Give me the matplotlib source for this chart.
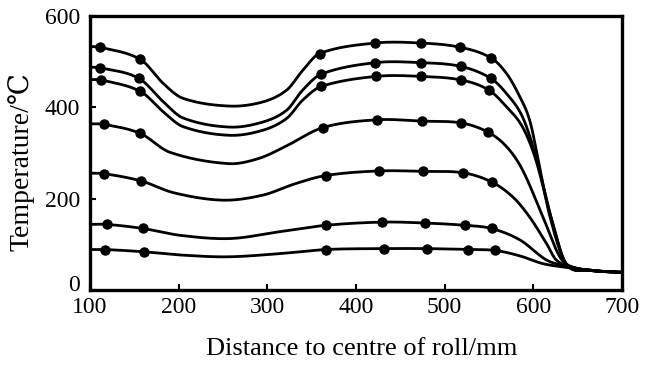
import numpy as np
import matplotlib
matplotlib.use("Agg")
import matplotlib.pyplot as plt
from matplotlib.transforms import ScaledTranslation

# marker points (distance mm, temperature C), top curve first
mark_x = [
    [111, 157, 359, 422, 473, 517, 552],
    [111, 155, 361, 422, 473, 518, 552],
    [113, 157, 361, 423, 473, 519, 550],
    [116, 157, 363, 424, 475, 519, 549],
    [116, 158, 366, 426, 476, 521, 553],
    [119, 160, 366, 430, 478, 523, 553],
    [117, 161, 366, 432, 480, 526, 557],
]
mark_t = [
    [532, 505, 518, 541, 541, 532, 509],
    [487, 464, 473, 498, 498, 490, 464],
    [460, 435, 446, 468, 468, 460, 438],
    [363, 343, 356, 373, 370, 366, 346],
    [255, 239, 251, 261, 260, 257, 237],
    [144, 135, 142, 149, 147, 142, 135],
    [89, 84, 89, 91, 91, 89, 87],
]
# unmarked points the drawn curves pass through
line_x = [
    [100, 183, 205, 257, 295, 322, 340, 570, 585, 596, 605, 619, 637, 664, 700],
    [100, 183, 205, 257, 295, 322, 340, 570, 588, 603, 620, 637, 664, 700],
    [100, 183, 205, 257, 295, 322, 340, 570, 588, 603, 620, 637, 664, 700],
    [100, 190, 256, 290, 320, 570, 588, 611, 630, 645, 670, 700],
    [100, 195, 250, 295, 330, 577, 596, 615, 626, 645, 670, 700],
    [100, 202, 258, 314, 585, 615, 637, 665, 700],
    [100, 202, 255, 314, 585, 611, 637, 665, 700],
]
line_t = [
    [533, 452, 420, 403, 412, 438, 481, 474, 423, 372, 292, 160, 58, 44, 39],
    [488, 412, 377, 357, 368, 394, 438, 430, 379, 292, 160, 58, 44, 39],
    [461, 390, 358, 339, 350, 376, 416, 401, 357, 285, 160, 58, 44, 39],
    [364, 302, 277, 288, 314, 314, 263, 160, 73, 50, 42, 39],
    [256, 213, 197, 208, 232, 204, 160, 102, 66, 50, 42, 39],
    [144, 120, 113, 128, 110, 66, 53, 43, 39],
    [89, 77, 73, 80, 75, 58, 50, 43, 39],
]


def smooth_line(x, y, xn):
    # cubic Hermite with centred-difference slopes, only to draw a smooth line
    x = np.asarray(x, float); y = np.asarray(y, float)
    m = np.empty_like(y)
    m[1:-1] = (y[2:] - y[:-2]) / (x[2:] - x[:-2])
    m[0] = (y[1] - y[0]) / (x[1] - x[0])
    m[-1] = (y[-1] - y[-2]) / (x[-1] - x[-2])
    h = np.diff(x)
    i = np.clip(np.searchsorted(x, xn) - 1, 0, len(h) - 1)
    s = (xn - x[i]) / h[i]
    h00 = 2*s**3 - 3*s**2 + 1; h10 = s**3 - 2*s**2 + s
    h01 = -2*s**3 + 3*s**2; h11 = s**3 - s**2
    return h00*y[i] + h10*h[i]*m[i] + h01*y[i+1] + h11*h[i]*m[i+1]


plt.rcParams['font.family'] = ['Liberation Serif', 'DejaVu Serif']

fig = plt.figure(figsize=(6.56, 3.65), dpi=100)
ax = fig.add_axes([0.137, 0.205, 0.811, 0.751])

xs = np.linspace(100, 700, 1200)
for mx, mt, lx, lt in zip(mark_x, mark_t, line_x, line_t):
    kx = np.array(mx + lx, float); kt = np.array(mt + lt, float)
    order = np.argsort(kx)
    ax.plot(xs, smooth_line(kx[order], kt[order], xs), color='black', lw=2.0,
            solid_capstyle='round')
    ax.plot(mx, mt, 'o', color='black', ms=6.5)

ax.set_xlim(100, 700)
ax.set_ylim(0, 600)
ax.set_xticks([100, 200, 300, 400, 500, 600, 700])
ax.set_yticks([0, 200, 400, 600])
ax.tick_params(direction='in', length=4, width=1.5, labelsize=17)
ax.tick_params(axis='x', pad=5)
ax.tick_params(axis='y', pad=7)
for sp in ax.spines.values():
    sp.set_linewidth(2.4)
# the "0" sits a little above the corner in the original
zero = ax.get_yticklabels()[0]
zero.set_transform(zero.get_transform() + ScaledTranslation(0, 5 / 72, fig.dpi_scale_trans))
ax.set_xlabel('Distance to centre of roll/mm', fontsize=19)
ax.set_ylabel('Temperature/℃', fontsize=20)
ax.xaxis.set_label_coords(0.51, -0.175)
ax.yaxis.set_label_coords(-0.105, 0.47)

fig.savefig('out.png', dpi=100)
